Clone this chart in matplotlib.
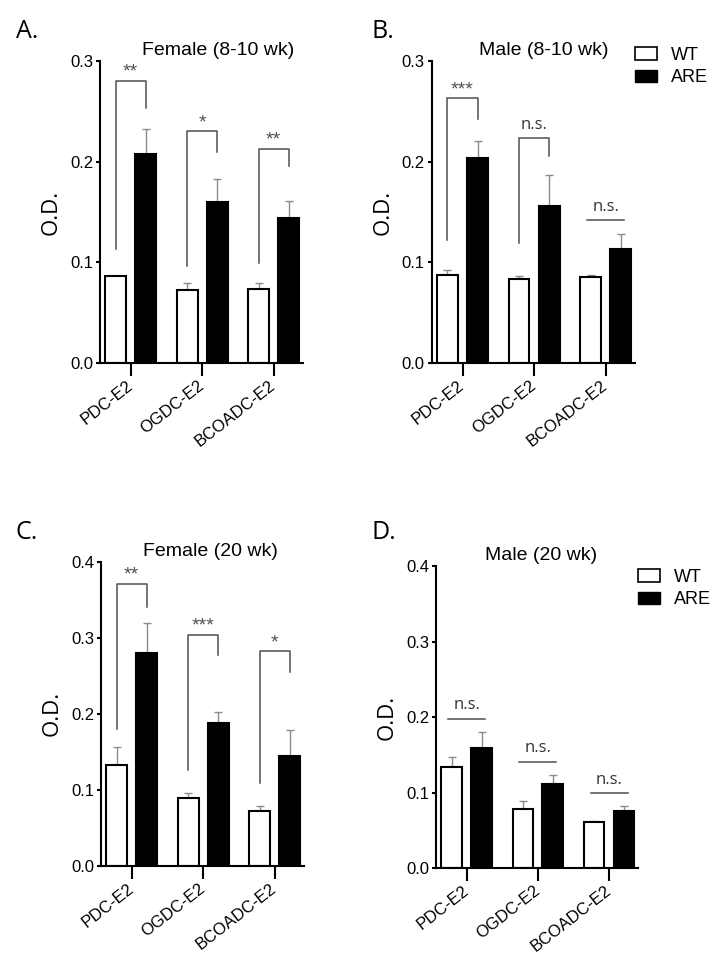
import numpy as np
import matplotlib
matplotlib.use('Agg')
import matplotlib.pyplot as plt
from matplotlib.patches import Patch
from matplotlib.transforms import ScaledTranslation

plt.rcParams['font.family'] = ['Liberation Sans', 'DejaVu Sans']

# 1. Data
categories = ['PDC-E2', 'OGDC-E2', 'BCOADC-E2']

a_wt = [0.087, 0.073, 0.074]
a_wt_err = [0.0, 0.007, 0.006]
a_are = [0.207, 0.160, 0.144]
a_are_err = [0.025, 0.023, 0.017]

b_wt = [0.088, 0.084, 0.086]
b_wt_err = [0.004, 0.003, 0.002]
b_are = [0.204, 0.156, 0.113]
b_are_err = [0.016, 0.031, 0.015]

c_wt = [0.133, 0.090, 0.072]
c_wt_err = [0.024, 0.006, 0.007]
c_are = [0.280, 0.188, 0.144]
c_are_err = [0.040, 0.015, 0.035]

d_wt = [0.134, 0.078, 0.061]
d_wt_err = [0.013, 0.011, 0.002]
d_are = [0.159, 0.111, 0.076]
d_are_err = [0.022, 0.013, 0.007]

# significance marks: (bracket top, left leg bottom, right leg bottom, label)
# a left leg of None means a plain line over the pair
a_sig = [(0.280, 0.113, 0.253, '**'), (0.230, 0.096, 0.209, '*'), (0.2125, 0.099, 0.196, '**')]
b_sig = [(0.263, 0.122, 0.242, '***'), (0.223, 0.119, 0.206, 'n.s.'), (0.142, None, None, 'n.s.')]
c_sig = [(0.371, 0.180, 0.341, '**'), (0.304, 0.126, 0.277, '***'), (0.2825, 0.109, 0.255, '*')]
d_sig = [(0.1975, None, None, 'n.s.'), (0.141, None, None, 'n.s.'), (0.099, None, None, 'n.s.')]

titles = ['Female (8-10 wk)', 'Male (8-10 wk)', 'Female (20 wk)', 'Male (20 wk)']
letters = ['A.', 'B.', 'C.', 'D.']
ymax = [0.3, 0.3, 0.4, 0.4]

panels = [(a_wt, a_wt_err, a_are, a_are_err, a_sig),
          (b_wt, b_wt_err, b_are, b_are_err, b_sig),
          (c_wt, c_wt_err, c_are, c_are_err, c_sig),
          (d_wt, d_wt_err, d_are, d_are_err, d_sig)]

# axes rectangles in figure fractions
rects = [[0.1387, 0.6247, 0.2816, 0.3126],
         [0.5988, 0.6247, 0.2820, 0.3126],
         [0.1401, 0.1054, 0.2816, 0.3143],
         [0.6047, 0.1030, 0.2806, 0.3123]]
letter_pos = [(0.022, 0.980), (0.515, 0.980), (0.022, 0.463), (0.515, 0.463)]
title_x = [0.58, 0.55, 0.54, 0.52]

fig = plt.figure(figsize=(7.21, 9.68), dpi=100)

x = np.arange(len(categories))
off = 0.21
w = 0.29
grey = '#505050'
shift = ScaledTranslation(5 / 100, 0, fig.dpi_scale_trans)

for i, (wt, wt_err, are, are_err, sig) in enumerate(panels):
    ax = fig.add_axes(rects[i])
    ax.bar(x - off, wt, w, color='white', edgecolor='black', linewidth=1.5, zorder=2)
    ax.bar(x + off, are, w, color='black', edgecolor='black', linewidth=1.5, zorder=2)
    ax.errorbar(x - off, wt, yerr=[np.zeros(3), wt_err], fmt='none', ecolor='#8c8c8c',
                elinewidth=1, capsize=3, capthick=1, zorder=1)
    ax.errorbar(x + off, are, yerr=[np.zeros(3), are_err], fmt='none', ecolor='#8c8c8c',
                elinewidth=1, capsize=3, capthick=1, zorder=1)

    for j, (top, lb, rb, lab) in enumerate(sig):
        if lb is None:
            ax.plot([j - 0.26, j + 0.26], [top, top], color=grey, lw=1.1)
        else:
            ax.plot([j - off, j - off, j + off, j + off], [lb, top, top, rb], color=grey, lw=1.1)
        if lab == 'n.s.':
            ax.annotate(lab, (j, top), xytext=(0, 4), textcoords='offset points',
                        ha='center', va='bottom', fontsize=12, color='#333333',
                        family=['Open Sans', 'DejaVu Sans'])
        else:
            ax.annotate(lab, (j, top), xytext=(0, 0), textcoords='offset points',
                        ha='center', va='bottom', fontsize=14, color=grey)

    ax.set_xlim(-0.43, 2.41)
    ax.set_ylim(0, ymax[i])
    ticks = np.arange(0, ymax[i] + 0.001, 0.1)
    ax.set_yticks(ticks)
    ax.set_yticklabels(['%.1f' % t for t in ticks], fontsize=12)
    ax.set_xticks(x)
    ax.set_xticklabels(categories, rotation=38, ha='right', va='center',
                       rotation_mode='anchor', fontsize=12)
    for lbl in ax.get_xticklabels():
        lbl.set_transform(lbl.get_transform() + shift)
    ax.tick_params(axis='x', length=9, width=1.5, pad=6)
    ax.tick_params(axis='y', length=3, width=1.5, pad=2)
    for s in ['top', 'right']:
        ax.spines[s].set_visible(False)
    for s in ['left', 'bottom']:
        ax.spines[s].set_linewidth(1.5)
    ax.set_ylabel('O.D.', fontsize=16, labelpad=6, family=['Open Sans', 'DejaVu Sans'])
    ax.set_title(titles[i], fontsize=14, pad=4, x=title_x[i])
    fig.text(letter_pos[i][0], letter_pos[i][1], letters[i], fontsize=18,
             va='top', family=['Open Sans', 'DejaVu Sans'])

    if i in (1, 3):
        handles = [Patch(facecolor='white', edgecolor='black', linewidth=1.2, label='WT'),
                   Patch(facecolor='black', edgecolor='black', label='ARE')]
        ax.legend(handles=handles, loc='upper left', bbox_to_anchor=(1.0, 1.045 if i == 1 else 0.99),
                  frameon=False, fontsize=13, handlelength=1.2, handleheight=0.7,
                  handletextpad=0.8, labelspacing=0.3, borderpad=0, borderaxespad=0)

fig.savefig('out.png', dpi=100)
